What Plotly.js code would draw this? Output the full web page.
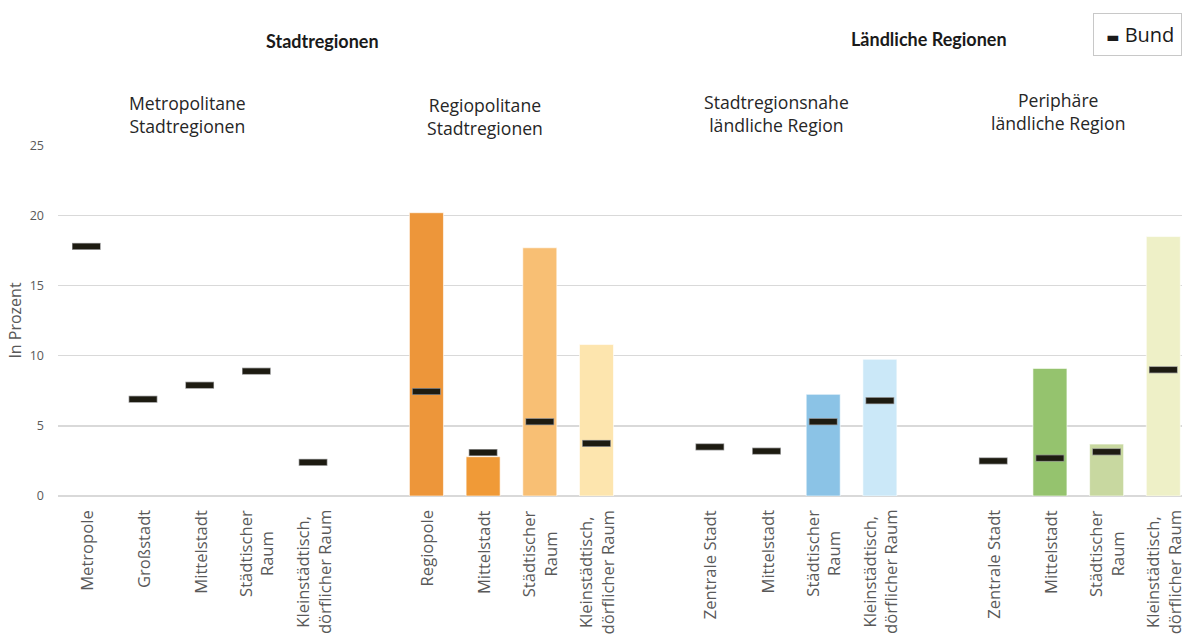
<!DOCTYPE html>
<html>
<head>
<meta charset="utf-8">
<script src="https://cdn.plot.ly/plotly-3.0.1.min.js"></script>
<style>html,body{margin:0;padding:0;background:#fff;}#chart{width:1182px;height:637px;}</style>
</head>
<body>
<div id="chart"></div>
<script>
// ---- data ----
const categories = [
  "Metropole", "Großstadt", "Mittelstadt", "Städtischer<br>Raum", "Kleinstädtisch,<br>dörflicher Raum",
  "",
  "Regiopole", "Mittelstadt", "Städtischer<br>Raum", "Kleinstädtisch,<br>dörflicher Raum",
  "",
  "Zentrale Stadt", "Mittelstadt", "Städtischer<br>Raum", "Kleinstädtisch,<br>dörflicher Raum",
  "",
  "Zentrale Stadt", "Mittelstadt", "Städtischer<br>Raum", "Kleinstädtisch,<br>dörflicher Raum"
];
const regionValues = [
  null, null, null, null, null,
  null,
  20.2, 2.8, 17.7, 10.8,
  null,
  null, null, 7.25, 9.75,
  null,
  null, 9.1, 3.7, 18.5
];
const bundValues = [
  17.8, 6.9, 7.9, 8.9, 2.4,
  null,
  7.45, 3.1, 5.3, 3.75,
  null,
  3.5, 3.2, 5.3, 6.8,
  null,
  2.5, 2.7, 3.15, 9.0
];
const barColors = [
  "#fff", "#fff", "#fff", "#fff", "#fff",
  "#fff",
  "#ED963A", "#F09A37", "#F8BF74", "#FDE5AE",
  "#fff",
  "#fff", "#fff", "#8BC3E6", "#CBE8F8",
  "#fff",
  "#fff", "#95C36E", "#C8D8A0", "#EEF0C7"
];
const groupLabels = ["Metropolitane<br>Stadtregionen", "Regiopolitane<br>Stadtregionen",
                     "Stadtregionsnahe<br>ländliche Region", "Periphäre<br>ländliche Region"];
const superLabels = ["Stadtregionen", "Ländliche Regionen"];
const yTicks = [0, 5, 10, 15, 20, 25];
const legendName = "Bund";

// ---- layout helpers (positions only) ----
const xIdx = categories.map((_, i) => i);
const groupX = [1.79, 7.04, 12.18, 17.14];
const groupY = [1.088, 1.081, 1.091, 1.096];
const superX = [4.17, 14.87];
const superY = [1.296, 1.303];

const traces = [
  {
    type: "bar", x: xIdx, y: regionValues, width: 0.6,
    marker: {color: barColors, line: {color: "rgba(255,255,255,0.6)", width: 1}},
    hoverinfo: "y", showlegend: false
  },
  {
    type: "scatter", mode: "markers", x: xIdx, y: bundValues,
    marker: {symbol: "line-ew", size: 20.5, line: {color: "#8c8c8c", width: 7}},
    hoverinfo: "skip", showlegend: false
  },
  {
    type: "scatter", mode: "markers", x: xIdx, y: bundValues, name: legendName,
    marker: {symbol: "line-ew", size: 19.5, line: {color: "#1d1b11", width: 5.5}},
    showlegend: false
  }
];

const annotations = [];
categories.forEach((c, i) => {
  if (!c) return;
  annotations.push({
    xref: "x", yref: "paper", x: i, y: 0, yshift: -12,
    text: c, textangle: -90, showarrow: false, align: "center",
    xanchor: "center", yanchor: "top",
    font: {family: "Open Sans", size: 16.6, color: "#595959"}
  });
});
groupLabels.forEach((g, i) => {
  annotations.push({
    xref: "x", yref: "paper", x: groupX[i], y: groupY[i], text: g,
    showarrow: false, align: "center", xanchor: "center", yanchor: "middle",
    font: {family: "Open Sans", size: 17.6, color: "#262626"}
  });
});
superLabels.forEach((s, i) => {
  annotations.push({
    xref: "x", yref: "paper", x: superX[i], y: superY[i], text: "<b>" + s + "</b>",
    showarrow: false, xanchor: "center", yanchor: "middle",
    font: {family: "Lato", size: 18, color: "#1a1a1a"}
  });
});
annotations.push({
  xref: "paper", yref: "paper", x: 0.9208, y: 1.376, xanchor: "left", yanchor: "top",
  text: "&nbsp;<span style='font-family:DejaVu Sans;font-size:14px'>▬</span> " + legendName,
  showarrow: false,
  bordercolor: "#c8c8c8", borderwidth: 1, borderpad: 7, bgcolor: "#fff",
  font: {family: "Open Sans", size: 20, color: "#1a1a1a"}
});

const layout = {
  width: 1182, height: 637,
  margin: {l: 57.75, r: 0, t: 145.3, b: 141.3},
  paper_bgcolor: "#fff", plot_bgcolor: "#fff",
  showlegend: false,
  bargap: 0.4,
  xaxis: {
    range: [-0.5, 19.33], showticklabels: false, showgrid: false, zeroline: false,
    fixedrange: true
  },
  yaxis: {
    range: [0, 25.03], tickvals: yTicks, ticktext: yTicks.map(String),
    showgrid: true, gridcolor: "#d9d9d9", gridwidth: 1.3,
    zeroline: true, zerolinecolor: "#d9d9d9", zerolinewidth: 1.3,
    ticklabelstandoff: 13,
    tickfont: {family: "Open Sans", size: 12.5, color: "#595959"},
    title: {text: "In Prozent", standoff: 4, font: {family: "Open Sans", size: 16, color: "#595959"}},
    fixedrange: true
  },
  annotations: annotations
};

Plotly.newPlot("chart", traces, layout, {displayModeBar: false, staticPlot: true});
</script>
</body>
</html>
